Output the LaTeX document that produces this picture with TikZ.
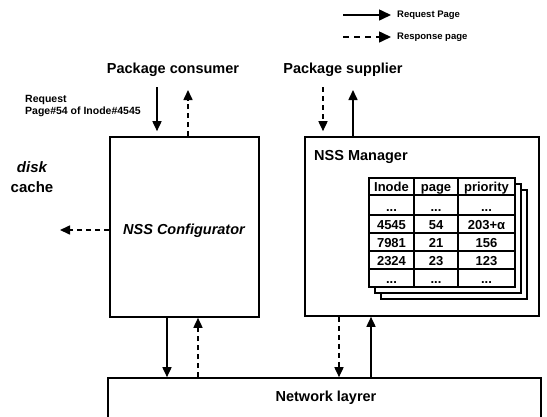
\documentclass[tikz,border=0pt]{standalone}
\usepackage{fontspec}
\setmainfont{Liberation Sans}
\usetikzlibrary{arrows.meta}
\begin{document}
\begin{tikzpicture}[x=1pt,y=-1pt,
  box/.style={draw,line width=1.6pt,inner sep=0pt},
  req/.style={line width=1.6pt,-{Triangle[length=10pt,width=9pt]}},
  resp/.style={req,dash pattern=on 5pt off 4pt},
  bigtxt/.style={font=\fontsize{14.5}{18}\selectfont\bfseries,inner sep=0pt},
  smalltxt/.style={font=\fontsize{9.5}{11}\selectfont\bfseries,inner sep=0pt},
  celltxt/.style={font=\fontsize{13}{16}\selectfont\bfseries,inner sep=0pt,anchor=base},
  tbl/.style={line width=1.6pt},
  sheet/.style={draw,fill=white,line width=1.6pt}]
\clip (0,0) rectangle (547,416);
\fill[white] (0,0) rectangle (547,416);

% legend
\coordinate (l1a) at (343,15);
\coordinate (l1b) at (391,15);
\coordinate (l2a) at (343,37);
\coordinate (l2b) at (391,37);
\draw[req,-{Triangle[length=12pt,width=11pt]}] (l1a) -- (l1b);
\draw[resp,dash pattern=on 6pt off 5pt,-{Triangle[length=12pt,width=11pt]}] (l2a) -- (l2b);
\node[smalltxt,anchor=west] (lreq) at (397,15) {Request Page};
\node[smalltxt,anchor=west] (lresp) at (397,37) {Response page};

% main blocks
\node[box,minimum width=149pt,minimum height=180pt] (conf) at (184.5,227) {};
\node[box,minimum width=234pt,minimum height=179pt] (mgr) at (422,226.5) {};
\node[box,minimum width=433pt,minimum height=40pt] (net) at (324.5,398) {};

\node[bigtxt,font=\fontsize{14.5}{18}\selectfont\bfseries\itshape] (conflbl) at (184,231) {NSS Configurator};
\node[bigtxt,anchor=west] (mgrlbl) at (314,157) {NSS Manager};
\node[bigtxt] (netlbl) at (326,398) {Network layrer};
\node[bigtxt] (cons) at (173,70) {Package consumer};
\node[bigtxt] (supp) at (343,70) {Package supplier};
\node[bigtxt,align=center,font=\fontsize{15}{20}\selectfont\bfseries] (disk) at (32,177) {\itshape disk\\cache};
\node[smalltxt,anchor=west,align=left,font=\fontsize{10.5}{11.5}\selectfont\bfseries] (reqlbl) at (25,106) {Request\\Page\#54 of Inode\#4545};

% traffic with the package consumer and supplier
\coordinate (c1) at (157,87);
\coordinate (c2) at (188,90);
\coordinate (s1) at (323,87);
\coordinate (s2) at (353,90);
\draw[req] (c1) -- (c1 |- conf.north) [shorten >=5pt];
\draw[resp] (c2 |- conf.north) -- (c2);
\draw[resp] (s1) -- (s1 |- mgr.north) [shorten >=5pt];
\draw[req] (s2 |- mgr.north) -- (s2);

% disk cache
\coordinate (dk) at (60,230);
\draw[resp] (conf.west |- dk) -- (dk);

% traffic with the network layer
\coordinate (n1) at (167,0);
\coordinate (n2) at (198,0);
\coordinate (n3) at (339,0);
\coordinate (n4) at (371,0);
\draw[req] (n1 |- conf.south) -- (n1 |- net.north);
\draw[resp] (n2 |- net.north) -- (n2 |- conf.south);
\draw[resp] (n3 |- mgr.south) -- (n3 |- net.north);
\draw[req] (n4 |- net.north) -- (n4 |- mgr.south);

% page table with stacked copies behind it
\draw[sheet] (381,190) rectangle (527,299);
\draw[sheet] (375,184) rectangle (521,293);
\draw[sheet] (369,178) rectangle (515,287);
\foreach \yy in {195,215,233,251,269} \draw[tbl] (369,\yy) -- (515,\yy);
\foreach \xx in {414,458} \draw[tbl] (\xx,178) -- (\xx,287);

\node[celltxt] (h1) at (391.5,191) {Inode};
\node[celltxt] (h2) at (436,191) {page};
\node[celltxt] (h3) at (486.5,191) {priority};
\node[celltxt] (a1) at (391.5,211) {...};
\node[celltxt] (a2) at (436,211) {...};
\node[celltxt] (a3) at (486.5,211) {...};
\node[celltxt] (b1) at (391.5,229) {4545};
\node[celltxt] (b2) at (436,229) {54};
\node[celltxt] (b3) at (486.5,229) {203+α};
\node[celltxt] (c1t) at (391.5,247) {7981};
\node[celltxt] (c2t) at (436,247) {21};
\node[celltxt] (c3t) at (486.5,247) {156};
\node[celltxt] (d1) at (391.5,265) {2324};
\node[celltxt] (d2) at (436,265) {23};
\node[celltxt] (d3) at (486.5,265) {123};
\node[celltxt] (e1) at (391.5,283) {...};
\node[celltxt] (e2) at (436,283) {...};
\node[celltxt] (e3) at (486.5,283) {...};
\end{tikzpicture}
\end{document}
